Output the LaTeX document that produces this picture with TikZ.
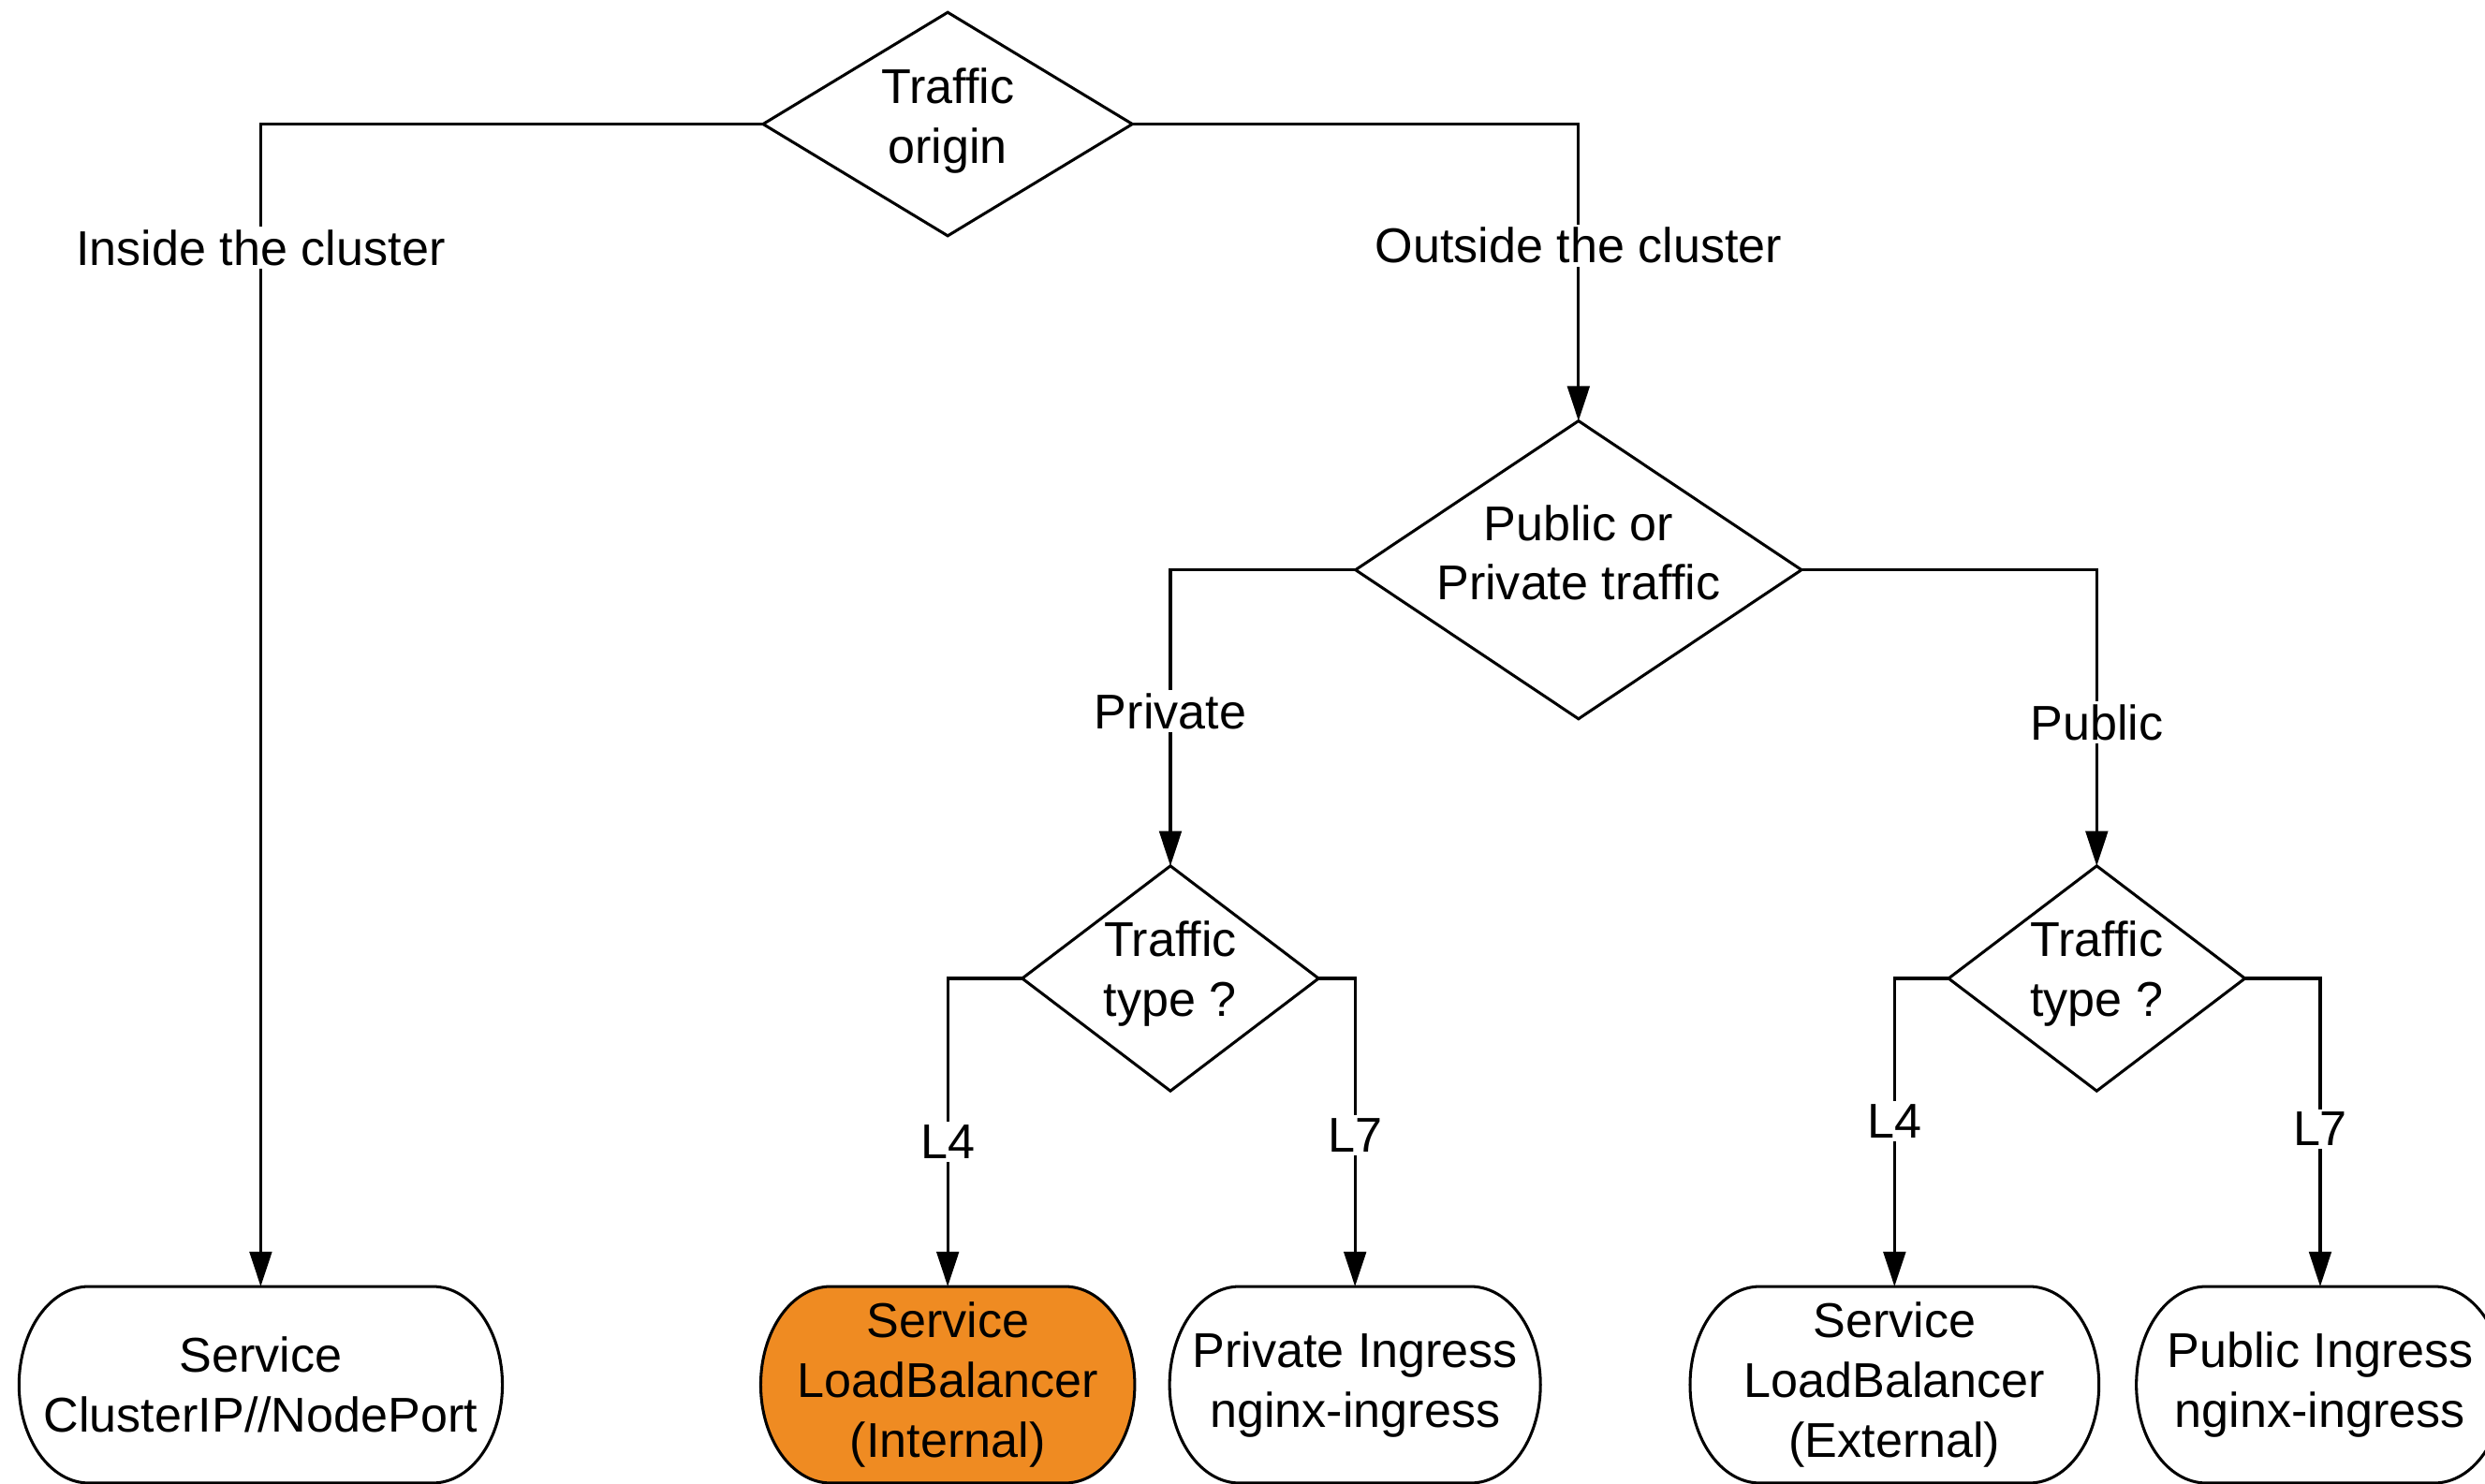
\documentclass[tikz,border=0pt]{standalone}
\usepackage{fontspec}
\setmainfont{Liberation Sans}
\usetikzlibrary{arrows.meta,backgrounds}
\definecolor{lborange}{RGB}{239,139,34}

% outline of a terminal box with elliptical ends, drawn around node #1
\newcommand\termoutline[2]{%
  \draw[edge, fill=#2]
    ([xshift=22pt]#1.north west) -- ([xshift=-22pt]#1.north east)
    .. controls ([xshift=-9.85pt]#1.north east) and ([yshift=17.1pt]#1.east) .. (#1.east)
    .. controls ([yshift=-17.1pt]#1.east) and ([xshift=-9.85pt]#1.south east) .. ([xshift=-22pt]#1.south east)
    -- ([xshift=22pt]#1.south west)
    .. controls ([xshift=9.85pt]#1.south west) and ([yshift=-17.1pt]#1.west) .. (#1.west)
    .. controls ([yshift=17.1pt]#1.west) and ([xshift=9.85pt]#1.north west) .. ([xshift=22pt]#1.north west)
    -- cycle;}

% outline of a decision diamond spanning node #1
\newcommand\diamondoutline[1]{%
  \draw[edge, fill=white, line join=miter]
    (#1.north) -- (#1.east) -- (#1.south) -- (#1.west) -- cycle;}

\begin{document}
\begin{tikzpicture}[x=0.5pt, y=-0.5pt,
  every node/.style={font=\fontsize{15.4pt}{18.8pt}\selectfont, align=center, outer sep=0pt},
  edge/.style={line width=0.9pt, draw=black},
  arr/.style={edge, -{Triangle[length=11pt, width=7pt]}},
  decision/.style 2 args={rectangle, minimum width=#1, minimum height=#2, inner sep=0pt},
  terminal/.style={rectangle, minimum width=#1, minimum height=62pt, inner sep=0pt},
  lbl/.style={fill=white, inner sep=1pt, anchor=base},
  intext/.style={inner sep=0pt}]

\useasboundingbox (0,0) rectangle (1568,936);
\clip (0,0) rectangle (1568,936);

% decision shapes
\node[decision={116.5pt}{70.5pt}] (d1) at (598,78.3) {};
\node[decision={140.7pt}{94pt}]   (d2) at (996,359.6) {};
\node[decision={93.5pt}{71pt}]    (d3) at (738.5,617.4) {};
\node[decision={93.5pt}{71pt}]    (d4) at (1323,617.4) {};

% end points
\node[terminal=152.5pt] (ci)  at (164.5,873.8) {Service\\ClusterIP//NodePort};
\node[terminal=118pt]   (lbi) at (598,873.8)   {Service\\LoadBalancer\\(Internal)};
\node[terminal=117pt]   (pri) at (855,873.8)   {Private Ingress\\nginx-ingress};
\node[terminal=129pt]   (lbe) at (1195.4,873.8) {Service\\LoadBalancer\\(External)};
\node[terminal=116pt]   (pub) at (1464,873.8)  {Public Ingress\\nginx-ingress};

\begin{scope}[on background layer]
  \termoutline{ci}{white}
  \termoutline{lbi}{lborange}
  \termoutline{pri}{white}
  \termoutline{lbe}{white}
  \termoutline{pub}{white}
\end{scope}

% connectors
\draw[arr] (d1.west) -| (ci.north);
\draw[arr] (d1.east) -| (d2.north);
\draw[arr] (d2.west) -| (d3.north);
\draw[arr] (d2.east) -| (d4.north);
\draw[arr] (d3.west) -| (lbi.north);
\draw[arr] (d3.east) -| (pri.north);
\draw[arr] (d4.west) -| (lbe.north);
\draw[arr] (d4.east) -| (pub.north);

\diamondoutline{d1}
\diamondoutline{d2}
\diamondoutline{d3}
\diamondoutline{d4}

% decision texts
\node[intext] (t1) at (598,76.3)    {Traffic\\origin};
\node[intext] (t2) at (996,348.8)   {Public or\\Private traffic};
\node[intext] (t3) at (738.5,614.3) {Traffic\\type ?};
\node[intext] (t4) at (1323,614.3)  {Traffic\\type ?};

% branch labels
\node[lbl] (b1) at (164.5,167.4) {Inside the cluster};
\node[lbl] (b2) at (996,166)     {Outside the cluster};
\node[lbl] (b3) at (738.5,460)   {Private};
\node[lbl] (b4) at (1323,467)    {Public};
\node[lbl] (b5) at (598,731)     {L4};
\node[lbl] (b6) at (855,727)     {L7};
\node[lbl] (b7) at (1195.4,718)  {L4};
\node[lbl] (b8) at (1464,723)    {L7};
\end{tikzpicture}
\end{document}
